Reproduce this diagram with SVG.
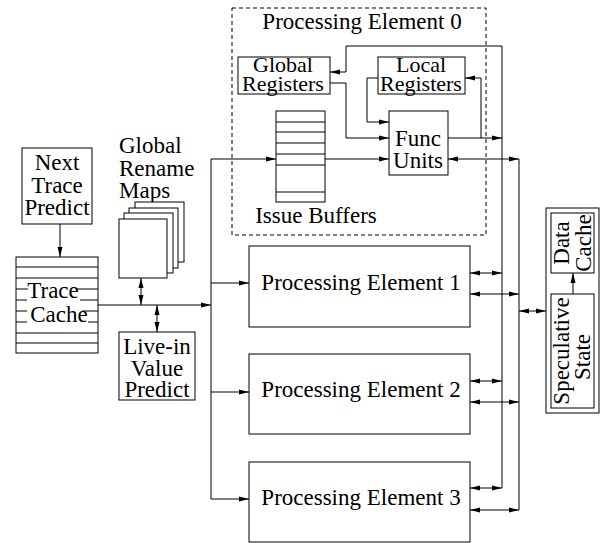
<svg xmlns="http://www.w3.org/2000/svg" width="600" height="543" viewBox="0 0 600 543">
<style>
.box{fill:none;stroke:#000;stroke-width:1}
.ln{fill:none;stroke:#000;stroke-width:1}
text{font-family:"Liberation Serif","DejaVu Serif","Times New Roman",serif;font-size:23px;fill:#000}
.m{text-anchor:middle}
.s{font-size:22px}
.a{marker-end:url(#ah)}
.b{marker-start:url(#ahs);marker-end:url(#ah)}
</style>
<defs>
<marker id="ah" markerUnits="userSpaceOnUse" markerWidth="10" markerHeight="6" refX="10" refY="3" orient="auto"><path d="M0,0.5 L10,3 L0,5.5 z" fill="#000"/></marker>
<marker id="ahs" markerUnits="userSpaceOnUse" markerWidth="10" markerHeight="6" refX="0" refY="3" orient="auto"><path d="M10,0.5 L0,3 L10,5.5 z" fill="#000"/></marker>
</defs>
<rect width="600" height="543" fill="#fff"/>

<g id="pe0">
<rect x="232" y="8" width="254" height="227" fill="none" stroke="#000" stroke-width="1" stroke-dasharray="4,3"/>
<text class="m" x="362" y="29" font-family="Liberation Serif, serif">Processing Element 0</text>
</g>
<g id="global-registers">
<rect class="box" x="238" y="57" width="92" height="37"/>
<text class="m s" x="283" y="72" font-family="Liberation Serif, serif">Global</text>
<text class="m s" x="283" y="91" font-family="Liberation Serif, serif">Registers</text>
</g>
<g id="local-registers">
<rect class="box" x="378" y="57" width="87" height="37"/>
<text class="m s" x="421" y="72" font-family="Liberation Serif, serif">Local</text>
<text class="m s" x="421" y="91" font-family="Liberation Serif, serif">Registers</text>
</g>
<g id="func-units">
<rect class="box" x="389" y="111" width="59" height="64"/>
<text class="m" x="418" y="146" font-family="Liberation Serif, serif">Func</text>
<text class="m" x="418" y="168" font-family="Liberation Serif, serif">Units</text>
</g>
<g id="issue-buffers">
<rect class="box" x="276" y="111" width="49" height="91"/>
<path class="ln" d="M276,122H325M276,132H325M276,143H325M276,154H325M276,165H325M276,192H325"/>
<text class="m" x="316" y="223" font-family="Liberation Serif, serif">Issue Buffers</text>
</g>
<g id="next-trace-predict">
<rect class="box" x="22" y="148" width="70" height="76"/>
<text class="m" x="57" y="170" font-family="Liberation Serif, serif">Next</text>
<text class="m" x="57" y="193" font-family="Liberation Serif, serif">Trace</text>
<text class="m" x="57" y="215" font-family="Liberation Serif, serif">Predict</text>
</g>
<g id="trace-cache">
<rect class="box" x="16" y="257" width="82" height="96"/>
<path class="ln" d="M16,267H98M16,278H98M16,289H28M77,289H98M16,300H27M80,300H98M16,311H27M82,311H98M16,322H27M88,322H98M16,333H98M16,343H98"/>
<text class="m" x="53" y="298" font-family="Liberation Serif, serif">Trace</text>
<text class="m" x="59" y="322" font-family="Liberation Serif, serif">Cache</text>
</g>
<g id="global-rename-maps">
<text x="119" y="153" font-family="Liberation Serif, serif">Global</text>
<text x="119" y="175.5" font-family="Liberation Serif, serif">Rename</text>
<text x="119" y="198" font-family="Liberation Serif, serif">Maps</text>
<rect x="135" y="202" width="49" height="60" fill="#fff" stroke="#000"/>
<rect x="129" y="208" width="49" height="60" fill="#fff" stroke="#000"/>
<rect x="124" y="213" width="49" height="60" fill="#fff" stroke="#000"/>
<rect x="119" y="219" width="48" height="59" fill="#fff" stroke="#000"/>
</g>
<g id="live-in-value-predict">
<rect class="box" x="119" y="332" width="76" height="68"/>
<text class="m" x="157" y="354" font-family="Liberation Serif, serif">Live-in</text>
<text class="m" x="157" y="376" font-family="Liberation Serif, serif">Value</text>
<text class="m" x="157" y="397" font-family="Liberation Serif, serif">Predict</text>
</g>
<g id="pe1">
<rect class="box" x="249" y="246" width="221" height="81"/>
<text class="m" x="361" y="290" font-family="Liberation Serif, serif">Processing Element 1</text>
</g>
<g id="pe2">
<rect class="box" x="249" y="354" width="221" height="80"/>
<text class="m" x="361" y="397" font-family="Liberation Serif, serif">Processing Element 2</text>
</g>
<g id="pe3">
<rect class="box" x="249" y="462" width="221" height="80"/>
<text class="m" x="361" y="505" font-family="Liberation Serif, serif">Processing Element 3</text>
</g>
<g id="speculative">
<rect class="box" x="546" y="208" width="53" height="205"/>
</g>
<g id="data-cache">
<rect class="box" x="551" y="213" width="43" height="60"/>
<text class="m" transform="translate(569,243) rotate(-90)" font-family="Liberation Serif, serif">Data</text>
<text class="m" transform="translate(591,243) rotate(-90)" font-family="Liberation Serif, serif">Cache</text>
</g>
<g id="speculative-state">
<rect class="box" x="551" y="294" width="43" height="114"/>
<text class="m" transform="translate(569,351) rotate(-90)" font-family="Liberation Serif, serif">Speculative</text>
<text class="m" transform="translate(590,357) rotate(-90)" font-family="Liberation Serif, serif">State</text>
</g>

<g id="connectors">
<path class="ln a" d="M60,224V257"/>
<path class="ln a" d="M98,305H211"/>
<path class="ln" d="M211,159V499"/>
<path class="ln a" d="M211,159H276"/>
<path class="ln a" d="M211,283H249"/>
<path class="ln a" d="M211,392H249"/>
<path class="ln a" d="M211,499H249"/>
<path class="ln b" d="M141,278V305"/>
<path class="ln b" d="M157,305V332"/>
<path class="ln a" d="M325,159H389"/>
<path class="ln a" d="M330,83H346V138H389"/>
<path class="ln a" d="M378,78H367V122H389"/>
<path class="ln a" d="M448,138H502"/>
<path class="ln" d="M502,46V488"/>
<path class="ln a" d="M502,46H346V72H330"/>
<path class="ln a" d="M481,138V78H465"/>
<path class="ln b" d="M448,159H519"/>
<path class="ln" d="M519,159V510"/>
<path class="ln b" d="M470,273H502"/>
<path class="ln b" d="M470,294H519"/>
<path class="ln b" d="M470,381H502"/>
<path class="ln b" d="M470,402H519"/>
<path class="ln b" d="M470,488H502"/>
<path class="ln b" d="M470,510H519"/>
<path class="ln b" d="M519,311H546"/>
<path class="ln a" d="M573,294V273"/>
</g>
</svg>
